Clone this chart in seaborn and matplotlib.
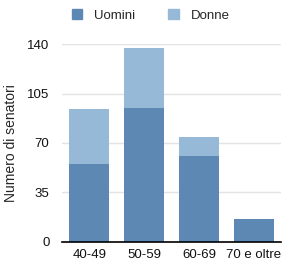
import matplotlib
matplotlib.use("Agg")
import matplotlib.pyplot as plt
import seaborn as sns
import pandas as pd
from matplotlib.patches import Patch

fasce = ["40-49", "50-59", "60-69", "70 e oltre"]
uomini = [55, 95, 61, 16]
donne = [39, 42, 13, 0]
yticks = [0, 35, 70, 105, 140]

col_uomini = "#5d88b3"
col_donne = "#95b9d7"

sns.set_style("white")
plt.rcParams["font.family"] = ["Liberation Sans", "DejaVu Sans"]

df = pd.DataFrame({"fascia": fasce, "uomini": uomini, "donne": donne})
df["totale"] = df["uomini"] + df["donne"]

fig = plt.figure(figsize=(2.91, 2.67), dpi=100)
ax = fig.add_axes([0.213, 0.094, 0.753, 0.741])

sns.barplot(data=df, x="fascia", y="totale", color=col_donne, saturation=1,
            width=0.73, linewidth=0, ax=ax, zorder=2)
sns.barplot(data=df, x="fascia", y="uomini", color=col_uomini, saturation=1,
            width=0.73, linewidth=0, ax=ax, zorder=3)

ax.set_ylim(0, 140)
ax.set_xlim(-0.5, 3.5)
ax.set_yticks(yticks)
ax.yaxis.grid(True, color="#e3e3e3", linewidth=1, zorder=0)
ax.set_axisbelow(True)
for s in ["left", "right", "top"]:
    ax.spines[s].set_visible(False)
ax.spines["bottom"].set_color("black")
ax.spines["bottom"].set_linewidth(1.2)
ax.spines["bottom"].set_zorder(5)
ax.tick_params(axis="both", length=0, labelsize=9.5, colors="#111111", pad=9)
ax.tick_params(axis="x", pad=5)
ax.set_xlabel("")
ax.set_ylabel("Numero di senatori", fontsize=10, labelpad=7)

handles = [Patch(color=col_uomini, label="Uomini"), Patch(color=col_donne, label="Donne")]
fig.legend(handles=handles, loc="upper left", bbox_to_anchor=(0.205, 1.01), ncol=2,
           frameon=False, fontsize=9.5, handlelength=0.8, handleheight=0.8,
           columnspacing=2.5, handletextpad=0.9)

fig.savefig("out.png", dpi=100)
